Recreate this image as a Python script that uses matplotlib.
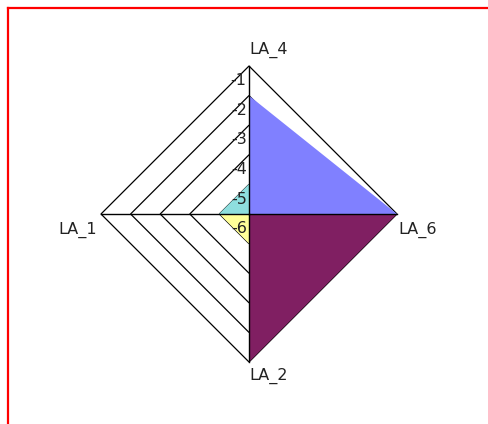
import numpy as np
import matplotlib
matplotlib.use('Agg')
import matplotlib.pyplot as plt
from matplotlib.lines import Line2D

# spokes, clockwise from the top
axis_labels = ['LA_4', 'LA_6', 'LA_2', 'LA_1']
scale_ticks = [-1, -2, -3, -4, -5, -6]

# one value per spoke, -6 is the centre of the chart
blue_vals = [-2, -1, -6, -6]
plum_vals = [-6, -1, -1, -6]
yellow_vals = [-6, -6, -5, -5]
teal_vals = [-5, -6, -6, -5]

series_colors = ['#8080ff', '#801f62', '#ffff99', '#8edede']


def to_xy(vals, angles, vmin):
    r = np.array(vals, dtype=float) - vmin
    return r * np.cos(angles), r * np.sin(angles)


def plot_radar():
    W, H, dpi = 488, 424, 100
    fig = plt.figure(figsize=(W / dpi, H / dpi), dpi=dpi)
    ax = fig.add_axes([0, 0, 1, 1])
    ax.set_axis_off()

    # centre of the diamond and pixels per unit
    cx, cy, ppu = 249, 214, 29.6
    ax.set_xlim(-cx / ppu, (W - cx) / ppu)
    ax.set_ylim(-(H - cy) / ppu, cy / ppu)

    vmin = min(scale_ticks)
    angles = np.deg2rad([90, 0, -90, 180])

    # diamond grid rings
    for t in scale_ticks:
        r = t - vmin
        if r <= 0:
            continue
        xs, ys = to_xy([t] * 4, angles, vmin)
        ax.fill(xs, ys, facecolor='none', edgecolor='black', lw=0.9, zorder=1)

    # filled series
    for vals, col in zip([blue_vals, plum_vals, yellow_vals, teal_vals],
                         series_colors):
        xs, ys = to_xy(vals, angles, vmin)
        ax.fill(xs, ys, facecolor=col, edgecolor='none', zorder=2)

    # spokes
    rmax = max(scale_ticks) - vmin
    for a in angles:
        ax.plot([0, rmax * np.cos(a)], [0, rmax * np.sin(a)],
                color='black', lw=1.0, zorder=3)

    # scale labels on the top spoke
    for t in scale_ticks:
        ax.text(-0.08, (t - vmin) - 0.5, str(t), ha='right', va='center',
                fontsize=11.5, color='#222222', zorder=4)

    # spoke labels
    ax.text(0.0, rmax + 0.28, axis_labels[0], ha='left', va='bottom',
            fontsize=11.5, color='#222222')
    ax.text(rmax + 0.05, -0.25, axis_labels[1], ha='left', va='top',
            fontsize=11.5, color='#222222')
    ax.text(0.0, -rmax - 0.2, axis_labels[2], ha='left', va='top',
            fontsize=11.5, color='#222222')
    ax.text(-rmax - 0.15, -0.25, axis_labels[3], ha='right', va='top',
            fontsize=11.5, color='#222222')

    # red frame, open at the right and bottom
    x0, y0 = 7.5 / W, 1 - 7.5 / H
    fig.add_artist(Line2D([x0, x0], [0, y0], color='red', lw=1.6,
                          transform=fig.transFigure))
    fig.add_artist(Line2D([x0, 1], [y0, y0], color='red', lw=1.6,
                          transform=fig.transFigure))

    fig.savefig('out.png', dpi=dpi)
    plt.close(fig)


def main():
    plot_radar()


if __name__ == '__main__':
    main()
